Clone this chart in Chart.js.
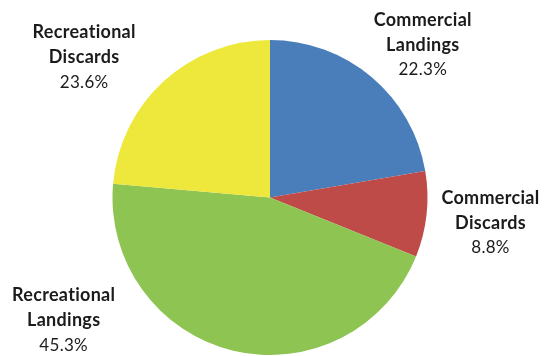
<!DOCTYPE html>
<html>
<head>
<meta charset="utf-8">
<script src="https://cdn.jsdelivr.net/npm/chart.js@4"></script>
<style>
  html, body { margin: 0; padding: 0; background: #ffffff; }
  #wrap { width: 545px; height: 356px; position: relative; }
</style>
</head>
<body>
<div id="wrap"><canvas id="c" width="545" height="356"></canvas></div>
<script>
const categories = ['Commercial Landings', 'Commercial Discards', 'Recreational Landings', 'Recreational Discards'];
const labelLines = [['Commercial', 'Landings'], ['Commercial', 'Discards'], ['Recreational', 'Landings'], ['Recreational', 'Discards']];
const shares = [22.3, 8.8, 45.3, 23.6];
const colors = ['#4A7EBB', '#BE4B48', '#8EC452', '#EFE83C'];

// label anchor offsets, in units of pie radius, relative to the pie centre
const labelOffsets = [[0.97, -0.97], [1.40, 0.16], [-1.31, 0.78], [-1.18, -0.89]];

const outsideLabels = {
  id: 'outsideLabels',
  afterDatasetsDraw(chart) {
    const ctx = chart.ctx;
    const meta = chart.getDatasetMeta(0);
    ctx.save();
    ctx.textAlign = 'center';
    ctx.textBaseline = 'middle';
    ctx.fillStyle = '#1b1b1b';
    if ('letterSpacing' in ctx) ctx.letterSpacing = '0.3px';
    meta.data.forEach((arc, i) => {
      const r = arc.outerRadius;
      const cx = arc.x + labelOffsets[i][0] * r;
      const cy = arc.y + labelOffsets[i][1] * r;
      const lh = 25;
      const lines = labelLines[i];
      ctx.font = 'bold 18px Lato, "Open Sans", sans-serif';
      ctx.fillText(lines[0], cx, cy - lh);
      ctx.fillText(lines[1], cx, cy);
      ctx.font = '17px Lato, "Open Sans", sans-serif';
      ctx.fillText(shares[i].toFixed(1) + '%', cx, cy + lh);
    });
    ctx.restore();
  }
};

new Chart(document.getElementById('c'), {
  type: 'pie',
  data: {
    labels: categories,
    datasets: [{
      data: shares,
      backgroundColor: colors,
      borderWidth: 0
    }]
  },
  options: {
    responsive: false,
    animation: false,
    layout: { padding: { top: 40, bottom: 1, left: 0, right: 5 } },
    plugins: {
      legend: { display: false },
      tooltip: { enabled: false },
      title: { display: false }
    }
  },
  plugins: [outsideLabels]
});
</script>
</body>
</html>
